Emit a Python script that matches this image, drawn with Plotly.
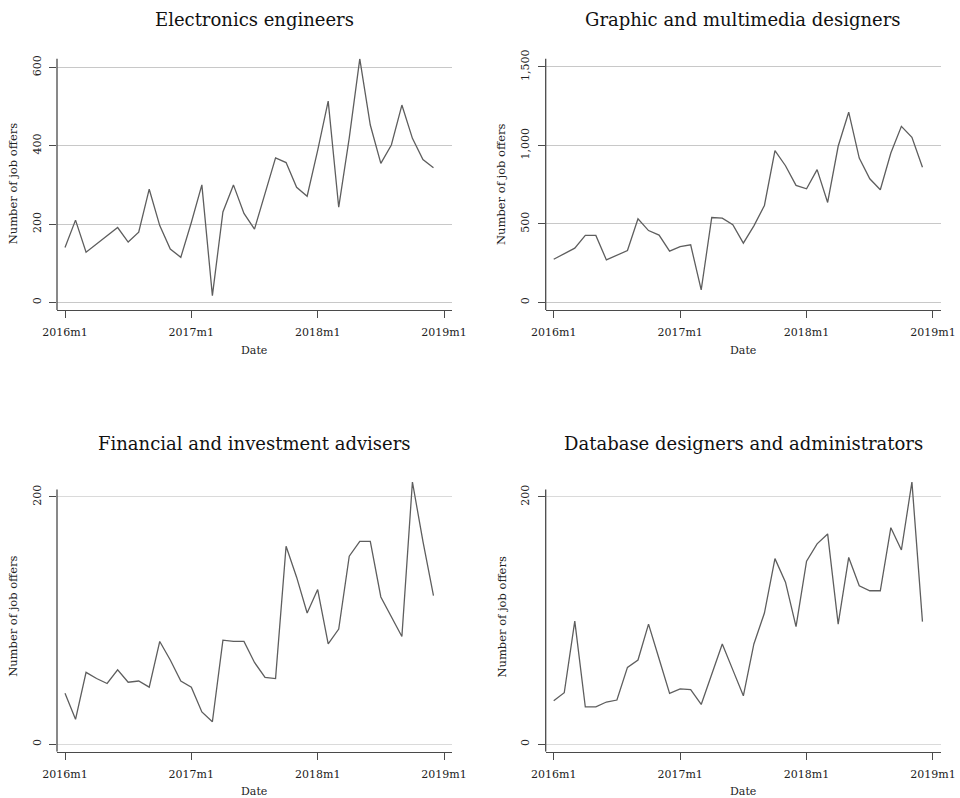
import plotly.graph_objects as go

# Monthly job-offer counts, 2016m1 .. 2018m12 (36 months)
months = list(range(36))
year_ticks = [0, 12, 24, 36]
year_labels = ["2016m1", "2017m1", "2018m1", "2019m1"]

titles = [
    "Electronics engineers",
    "Graphic and multimedia designers",
    "Financial and investment advisers",
    "Database designers and administrators",
]

electronics = [140, 210, 128, 149, 169, 191, 154, 179, 289, 196, 136, 115,
               204, 300, 17, 231, 300, 227, 187, 278, 369, 357, 294, 271,
               388, 514, 243, 420, 622, 453, 355, 402, 504, 419, 365, 344]
graphic = [274, 308, 345, 426, 426, 270, 302, 330, 532, 457, 428, 326,
           355, 366, 79, 540, 536, 494, 377, 487, 617, 966, 870, 745,
           723, 845, 636, 994, 1211, 919, 787, 717, 951, 1121, 1051, 860]
financial = [41, 20, 58, 53, 49, 60, 50, 51, 46, 83, 68, 51,
             46, 26, 18, 84, 83, 83, 66, 54, 53, 160, 135, 106,
             125, 81, 93, 152, 164, 164, 119, 103, 87, 212, 164, 120]
database = [35, 41.5, 99.5, 30, 30, 34, 35.6, 62, 68, 97, 69, 41,
            44.7, 44, 32, 56, 81, 60, 39, 81, 106, 150, 131, 95,
            148, 162, 170, 97, 151, 128, 124, 124, 175, 157, 212, 99]

series = [electronics, graphic, financial, database]
ytick_vals = [[0, 200, 400, 600], [0, 500, 1000, 1500], [0, 200], [0, 200]]
ytick_text = [["0", "200", "400", "600"], ["0", "500", "1,000", "1,500"],
              ["0", "200"], ["0", "200"]]
y_ranges = [[-19.7, 623], [-49, 1553], [-6.2, 212], [-6.2, 212]]
y_axis_tops = [623, 1553, 206, 206]

W, H = 960, 798
FONT = "DejaVu Serif"
LINE = "#5e5e5e"
AXIS = "#4a4a4a"

# panel boxes in pixels: (left, right, top, bottom)
boxes = [
    (57, 452, 58.5, 310),
    (545.7, 941, 58.5, 310),
    (57, 452, 482, 751.7),
    (545.7, 941, 482, 751.7),
]
grid_colors = ["#c8c8c8", "#c8c8c8", "#dadada", "#dadada"]

fig = go.Figure()
annotations = []
shapes = []

for i, (vals, box) in enumerate(zip(series, boxes)):
    l, r, t, b = box
    n = "" if i == 0 else str(i + 1)
    xa, ya = "xaxis" + n, "yaxis" + n
    xr, yr = "x" + n, "y" + n
    fig.add_trace(go.Scatter(
        x=months, y=vals, mode="lines", xaxis=xr, yaxis=yr,
        line=dict(color=LINE, width=1.3), showlegend=False,
        hoverinfo="skip"))
    fig.layout[xa] = dict(
        domain=[l / W, r / W], anchor=yr, range=[-0.76, 36.76],
        tickvals=year_ticks, ticktext=year_labels, ticks="outside",
        ticklen=7, tickcolor=AXIS, tickwidth=1, showline=True,
        linecolor=AXIS, linewidth=1.3, showgrid=False, zeroline=False,
        automargin=False, ticklabelstandoff=5,
        tickfont=dict(family=FONT, size=11, color="#222"))
    fig.layout[ya] = dict(
        domain=[1 - b / H, 1 - t / H], anchor=xr, range=y_ranges[i],
        tickvals=ytick_vals[i], ticktext=ytick_text[i], ticks="outside",
        ticklen=7, tickcolor=AXIS, tickwidth=1, tickangle=-90,
        showline=False, showgrid=True, gridcolor=grid_colors[i],
        gridwidth=1.2, zeroline=False, automargin=False,
        ticklabelstandoff=4,
        tickfont=dict(family=FONT, size=11, color="#222"))
    # vertical axis line, stopping a little below the top of the data
    shapes.append(dict(type="line", xref=xr + " domain", yref=yr,
                       x0=0, x1=0, y0=y_ranges[i][0], y1=y_axis_tops[i],
                       line=dict(color=AXIS, width=1.3)))
    annotations.append(dict(
        text=titles[i], xref="paper", yref="paper",
        x=(l + r) / 2 / W, y=1 - (t - 39) / H, xanchor="center",
        yanchor="middle", showarrow=False,
        font=dict(family=FONT, size=18, color="#111")))
    annotations.append(dict(
        text="Date", xref="paper", yref="paper",
        x=(l + r) / 2 / W, y=1 - (b + 40) / H, xanchor="center",
        yanchor="middle", showarrow=False,
        font=dict(family=FONT, size=11, color="#222")))
    annotations.append(dict(
        text="Number of job offers", xref="paper", yref="paper",
        x=(l - 44) / W, y=1 - (t + b) / 2 / H, xanchor="center",
        yanchor="middle", textangle=-90, showarrow=False,
        font=dict(family=FONT, size=11.5, color="#222")))

fig.update_layout(
    width=W, height=H,
    margin=dict(l=0, r=0, t=0, b=0, pad=0, autoexpand=False),
    paper_bgcolor="white", plot_bgcolor="white",
    annotations=annotations, shapes=shapes)

fig.write_html("out.html")
